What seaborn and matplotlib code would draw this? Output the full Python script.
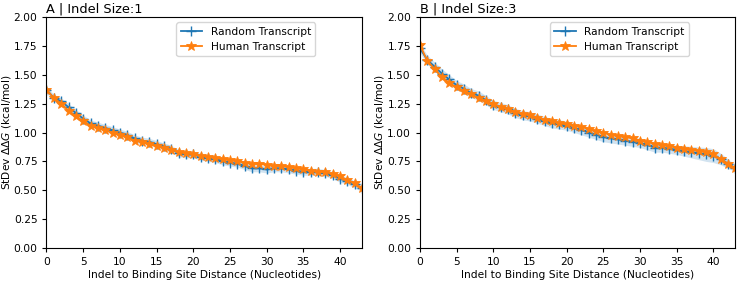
import numpy as np
import pandas as pd
import matplotlib
matplotlib.use("Agg")
import matplotlib.pyplot as plt
import seaborn as sns

# Distanza indel -> sito di legame (0..43)
distance = list(range(44))

# Pannello A | Indel Size:1
random_a = [1.37, 1.30, 1.27, 1.22, 1.17, 1.12, 1.08, 1.06, 1.04, 1.02, 1.00, 0.98, 0.95, 0.93, 0.92,
            0.90, 0.88, 0.86, 0.82, 0.81, 0.81, 0.79, 0.78, 0.77, 0.75, 0.74, 0.73, 0.71, 0.69, 0.69,
            0.68, 0.69, 0.69, 0.68, 0.67, 0.66, 0.66, 0.66, 0.65, 0.63, 0.60, 0.58, 0.55, 0.52]
human_a = [1.37, 1.30, 1.25, 1.19, 1.14, 1.10, 1.06, 1.04, 1.02, 1.00, 0.98, 0.96, 0.93, 0.92, 0.90,
           0.88, 0.87, 0.85, 0.83, 0.82, 0.81, 0.80, 0.79, 0.78, 0.77, 0.76, 0.75, 0.74, 0.73, 0.73,
           0.72, 0.71, 0.71, 0.70, 0.69, 0.68, 0.67, 0.66, 0.66, 0.64, 0.62, 0.59, 0.56, 0.52]
band_a = [0.03] * 44

# Pannello B | Indel Size:3
random_b = [1.73, 1.63, 1.57, 1.51, 1.46, 1.41, 1.38, 1.34, 1.32, 1.28, 1.24, 1.22, 1.20, 1.17, 1.15,
            1.14, 1.12, 1.10, 1.08, 1.07, 1.06, 1.04, 1.02, 1.00, 0.98, 0.96, 0.95, 0.94, 0.93, 0.92,
            0.91, 0.89, 0.87, 0.87, 0.86, 0.85, 0.84, 0.83, 0.82, 0.81, 0.80, 0.77, 0.73, 0.69]
human_b = [1.76, 1.62, 1.55, 1.48, 1.43, 1.39, 1.36, 1.33, 1.30, 1.27, 1.25, 1.22, 1.20, 1.18, 1.16,
           1.15, 1.13, 1.11, 1.10, 1.08, 1.07, 1.06, 1.05, 1.03, 1.01, 1.00, 0.98, 0.97, 0.96, 0.95,
           0.93, 0.92, 0.90, 0.89, 0.88, 0.87, 0.86, 0.85, 0.84, 0.83, 0.81, 0.77, 0.73, 0.69]
band_b = [0.04, 0.04, 0.04, 0.04, 0.04, 0.04, 0.04, 0.04, 0.04, 0.04, 0.04, 0.04, 0.04, 0.04, 0.04,
          0.04, 0.04, 0.04, 0.04, 0.04, 0.04, 0.04, 0.04, 0.04, 0.04, 0.04, 0.04, 0.04, 0.04, 0.04,
          0.04, 0.04, 0.04, 0.04, 0.04, 0.04, 0.045, 0.05, 0.055, 0.06, 0.06, 0.05, 0.04, 0.03]

BLUE = "#1f77b4"
ORANGE = "#ff7f0e"

plt.rcParams["font.size"] = 7.7


def draw_panel(ax, random_vals, human_vals, band, title):
    df = pd.DataFrame({"dist": distance, "random": random_vals, "human": human_vals})
    lo = np.array(random_vals) - np.array(band)
    hi = np.array(random_vals) + np.array(band)
    ax.fill_between(df["dist"], lo, hi, color=BLUE, alpha=0.2, linewidth=0)
    sns.lineplot(data=df, x="dist", y="random", ax=ax, color=BLUE, marker="+",
                 markersize=6.5, markeredgewidth=1.0, markeredgecolor=BLUE,
                 linewidth=1.3, label="Random Transcript")
    sns.lineplot(data=df, x="dist", y="human", ax=ax, color=ORANGE, marker="*",
                 markersize=7, markeredgewidth=0.6, markeredgecolor=ORANGE,
                 linewidth=1.3, label="Human Transcript")
    ax.set_xlim(0, 43)
    ax.set_ylim(0, 2)
    ax.set_xticks(range(0, 45, 5))
    ax.set_yticks(np.arange(0, 2.01, 0.25))
    ax.set_yticklabels([f"{v:.2f}" for v in np.arange(0, 2.01, 0.25)])
    ax.tick_params(labelsize=7.7, length=3)
    ax.set_xlabel("Indel to Binding Site Distance (Nucleotides)", labelpad=2)
    ax.set_ylabel(r"StDev $\Delta\Delta G$ (kcal/mol)", labelpad=0.5)
    ax.set_title(title, loc="left", pad=3)
    ax.legend(loc="upper center", bbox_to_anchor=(0.632, 1.0), fontsize=7.7)


fig = plt.figure(figsize=(7.38, 2.81), dpi=100)
ax1 = fig.add_axes([0.063, 0.1174, 0.4275, 0.822])
ax2 = fig.add_axes([0.569, 0.1174, 0.4275, 0.822])

draw_panel(ax1, random_a, human_a, band_a, "A | Indel Size:1")
draw_panel(ax2, random_b, human_b, band_b, "B | Indel Size:3")

fig.savefig("out.png", dpi=100)
